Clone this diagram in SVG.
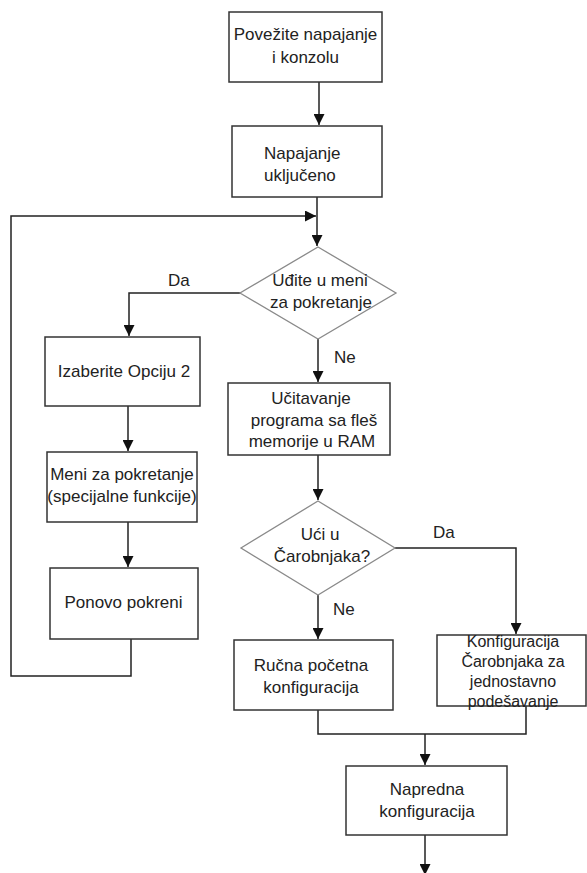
<svg xmlns="http://www.w3.org/2000/svg" width="587" height="873" viewBox="0 0 587 873">
  <style>
    .box { fill: #ffffff; stroke: #333333; stroke-width: 1.5; }
    .dia { fill: #ffffff; stroke: #8a8a8a; stroke-width: 1.3; }
    .conn { fill: none; stroke: #222222; stroke-width: 1.5; }
    text { font-family: "Liberation Sans", Arial, sans-serif; font-size: 17px; fill: #222222; }
    .c { text-anchor: middle; }
    .sm { font-size: 16px; }
  </style>
  <defs>
    <marker id="arr" markerUnits="userSpaceOnUse" markerWidth="11" markerHeight="11" refX="10" refY="5" orient="auto" viewBox="0 0 10 10">
      <path d="M0,0 L10,5 L0,10 z" fill="#111111"/>
    </marker>
  </defs>
  <rect width="587" height="873" fill="#ffffff"/>

  <g id="connectors">
    <path class="conn" d="M319,82 V125" marker-end="url(#arr)"/>
    <path class="conn" d="M317,197 V246" marker-end="url(#arr)"/>
    <path class="conn" d="M131,639 V676 H11 V216 H316" marker-end="url(#arr)"/>
    <path class="conn" d="M241,293 H129 V336" marker-end="url(#arr)"/>
    <path class="conn" d="M318,339 V382" marker-end="url(#arr)"/>
    <path class="conn" d="M128,406 V451" marker-end="url(#arr)"/>
    <path class="conn" d="M128,522 V567" marker-end="url(#arr)"/>
    <path class="conn" d="M318,455 V500" marker-end="url(#arr)"/>
    <path class="conn" d="M395,548 H516 V634" marker-end="url(#arr)"/>
    <path class="conn" d="M318,595 V639" marker-end="url(#arr)"/>
    <path class="conn" d="M318,710 V734 H526 V706"/>
    <path class="conn" d="M425,734 V765" marker-end="url(#arr)"/>
    <path class="conn" d="M425,835 V875" marker-end="url(#arr)"/>
    <text x="168" y="286">Da</text>
    <text x="334" y="363">Ne</text>
    <text x="433" y="538">Da</text>
    <text x="333" y="615">Ne</text>
  </g>

  <g id="n1">
    <rect class="box" x="229" y="12" width="153" height="70"/>
    <text class="c" x="305.5" y="40">Povežite napajanje</text>
    <text class="c" x="305.5" y="63">i konzolu</text>
  </g>
  <g id="n2">
    <rect class="box" x="232" y="126" width="150" height="71"/>
    <text x="264" y="159">Napajanje</text>
    <text x="264" y="181">uključeno</text>
  </g>
  <g id="d1">
    <polygon class="dia" points="318,247 396,293 318,339 240,293"/>
    <text class="c" x="320" y="286">Uđite u meni</text>
    <text class="c" x="321" y="308">za pokretanje</text>
  </g>
  <g id="n_izaberite">
    <rect class="box" x="45" y="337" width="155" height="69"/>
    <text class="c" x="124" y="377">Izaberite Opciju 2</text>
  </g>
  <g id="n_meni">
    <rect class="box" x="47" y="452" width="150" height="70"/>
    <text class="c" x="122" y="480">Meni za pokretanje</text>
    <text class="c" x="122" y="502">(specijalne funkcije)</text>
  </g>
  <g id="n_ponovo">
    <rect class="box" x="50" y="568" width="148" height="71"/>
    <text class="c" x="123.5" y="608">Ponovo pokreni</text>
  </g>
  <g id="n_ucitavanje">
    <rect class="box" x="228" y="383" width="162" height="72"/>
    <text class="c" x="311" y="404">Učitavanje</text>
    <text class="c" x="314" y="425.5">programa sa fleš</text>
    <text class="c" x="312" y="447">memorije u RAM</text>
  </g>
  <g id="d2">
    <polygon class="dia" points="318,501 395,548 318,595 241,548"/>
    <text class="c" x="320" y="540">Ući u</text>
    <text class="c" x="322" y="562">Čarobnjaka?</text>
  </g>
  <g id="n_rucna">
    <rect class="box" x="234" y="640" width="159" height="70"/>
    <text class="c" x="311" y="671">Ručna početna</text>
    <text class="c" x="311" y="693">konfiguracija</text>
  </g>
  <g id="n_konfig">
    <rect class="box" x="437" y="635" width="149" height="71"/>
    <text class="c sm" x="513" y="647">Konfiguracija</text>
    <text class="c sm" x="513" y="667">Čarobnjaka za</text>
    <text class="c sm" x="513" y="687">jednostavno</text>
    <text class="c sm" x="513" y="707">podešavanje</text>
  </g>
  <g id="n_napredna">
    <rect class="box" x="346" y="766" width="161" height="69"/>
    <text class="c" x="427" y="795">Napredna</text>
    <text class="c" x="427" y="817">konfiguracija</text>
  </g>
</svg>
